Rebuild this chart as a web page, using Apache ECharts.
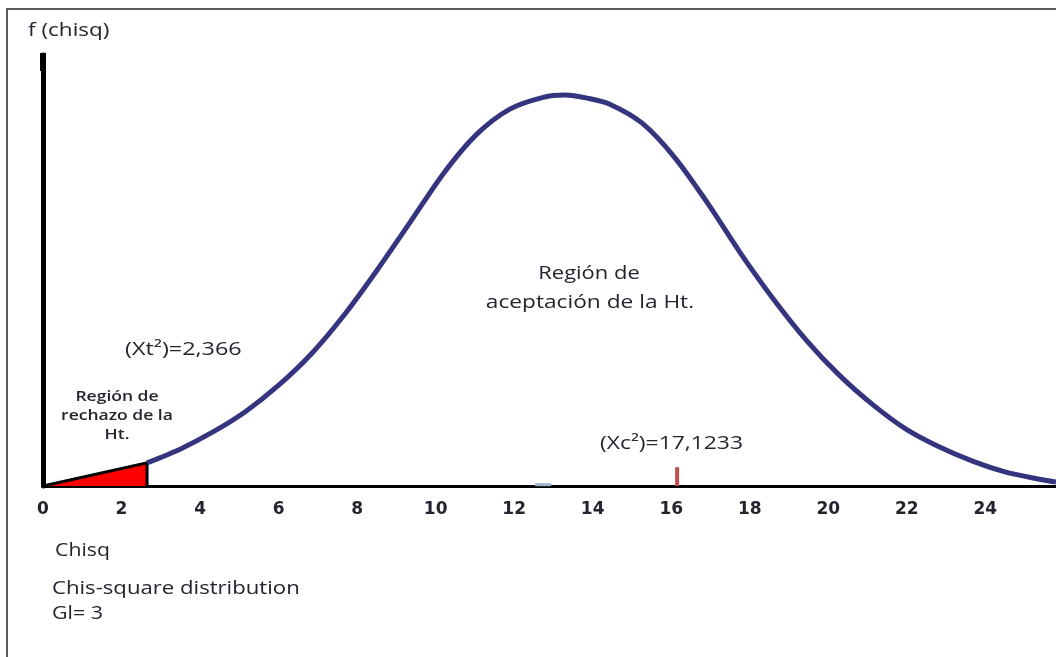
<!DOCTYPE html>
<html>
<head>
<meta charset="utf-8">
<script src="https://cdn.jsdelivr.net/npm/echarts@6/dist/echarts.min.js"></script>
<style>
html,body{margin:0;padding:0;background:#fff;}
#chart{width:1056px;height:657px;}
</style>
</head>
<body>
<div id="chart"></div>
<script>
// ---- data ----
const chisqX   = [2.65, 3.49, 4.33, 5.17, 6.01, 6.85, 7.69, 8.53, 9.37, 10.21, 11.05, 11.89, 12.74, 13.30, 13.86, 14.42, 15.26, 16.10, 16.94, 17.78, 18.62, 19.46, 20.30, 21.14, 21.98, 22.82, 23.66, 24.50, 25.34, 25.80];
const densityY = [0.0059, 0.0094, 0.0138, 0.0191, 0.0258, 0.0339, 0.0439, 0.0554, 0.0676, 0.0799, 0.0898, 0.0962, 0.0992, 0.0998, 0.0990, 0.0975, 0.0926, 0.0837, 0.0720, 0.0592, 0.0475, 0.0370, 0.0281, 0.0207, 0.0145, 0.0100, 0.0064, 0.0036, 0.0018, 0.0010];
const rejectX  = [0, 2.65, 2.65];
const rejectY  = [0, 0.0059, 0];
const xcMarkX  = [16.15, 16.15];
const xcMarkY  = [0, 0.0048];
const dashX    = [12.56, 12.91];
const dashY    = [0.0003, 0.0003];
const xMin = 0, xMax = 25.8, xStep = 2;
const yMin = 0, yMax = 0.11;

const yLabel = 'f (chisq)';
const xLabel = 'Chisq';
const distTitle = 'Chis-square distribution';
const dfText = 'Gl= 3';
const acceptLines = ['Región de', 'aceptación de la Ht.'];
const rejectLines = ['Región de', 'rechazo de la', 'Ht.'];
const xtText = '(Xt²)=2,366';
const xcText = '(Xc²)=17,1233';

const zip = (a, b) => a.map((v, i) => [v, b[i]]);

const FONT = '"Open Sans", "Noto Sans", sans-serif';
const TXT = '#24242e';

function label(text, x, y, size, sx, align, weight) {
  return {type: 'text', x: x, y: y, scaleX: sx, silent: true,
    style: {text: text, font: (weight || 'normal') + ' ' + size + 'px ' + FONT, fill: TXT,
      align: align || 'left', verticalAlign: 'middle'}};
}

const chart = echarts.init(document.getElementById('chart'), null, {renderer: 'canvas'});
chart.setOption({
  animation: false,
  backgroundColor: '#ffffff',
  grid: {left: 43, right: 0, top: 55, bottom: 171, containLabel: false, outerBoundsMode: 'none'},
  xAxis: {
    type: 'value', min: xMin, max: xMax, interval: xStep,
    axisLine: {show: true, onZero: false, lineStyle: {color: '#000', width: 3}},
    axisTick: {show: false},
    splitLine: {show: false},
    axisLabel: {color: TXT, fontFamily: '"DejaVu Sans", sans-serif', fontSize: 17, fontWeight: 'bold', margin: 15,
      showMaxLabel: false}
  },
  yAxis: {
    type: 'value', min: yMin, max: yMax,
    axisLine: {show: true, lineStyle: {color: '#000', width: 5}},
    axisTick: {show: false},
    axisLabel: {show: false},
    splitLine: {show: false}
  },
  series: [
    {
      type: 'line', data: zip(rejectX, rejectY), symbol: 'none', z: 3,
      lineStyle: {color: '#000', width: 3, join: 'miter'},
      areaStyle: {color: '#ff0000', opacity: 1}
    },
    {
      type: 'line', data: zip(chisqX, densityY), symbol: 'none', smooth: 0.3, z: 4,
      lineStyle: {color: '#35357f', width: 5}
    },
    {
      type: 'line', data: zip(xcMarkX, xcMarkY), symbol: 'none', z: 2,
      lineStyle: {color: '#c0504d', width: 4}
    },
    {
      type: 'line', data: zip(dashX, dashY), symbol: 'none', z: 2,
      lineStyle: {color: '#9fb1cc', width: 3, cap: 'round'}
    }
  ],
  graphic: [
    {type: 'rect', shape: {x: 7, y: 9, width: 1200, height: 800},
     style: {fill: 'none', stroke: '#5a5a5a', lineWidth: 2}, z: 0, silent: true},
    {type: 'rect', shape: {x: 40, y: 53, width: 6, height: 18},
     style: {fill: '#000'}, z: 10, silent: true},
    label(yLabel, 28, 31, 18, 1.25),
    label(acceptLines[0], 589, 274, 18, 1.22, 'center'),
    label(acceptLines[1], 590, 303, 18, 1.26, 'center'),
    label(rejectLines[0], 117, 397, 14, 1.25, 'center', 600),
    label(rejectLines[1], 117, 416, 14, 1.25, 'center', 600),
    label(rejectLines[2], 117, 435, 14, 1.25, 'center', 600),
    label(xtText, 125, 350, 18, 1.3),
    label(xcText, 600, 444, 18, 1.27),
    label(xLabel, 55, 551, 18, 1.18),
    label(distTitle, 52, 589, 18, 1.23),
    label(dfText, 52, 614, 18, 1.19)
  ]
});
</script>
</body>
</html>
